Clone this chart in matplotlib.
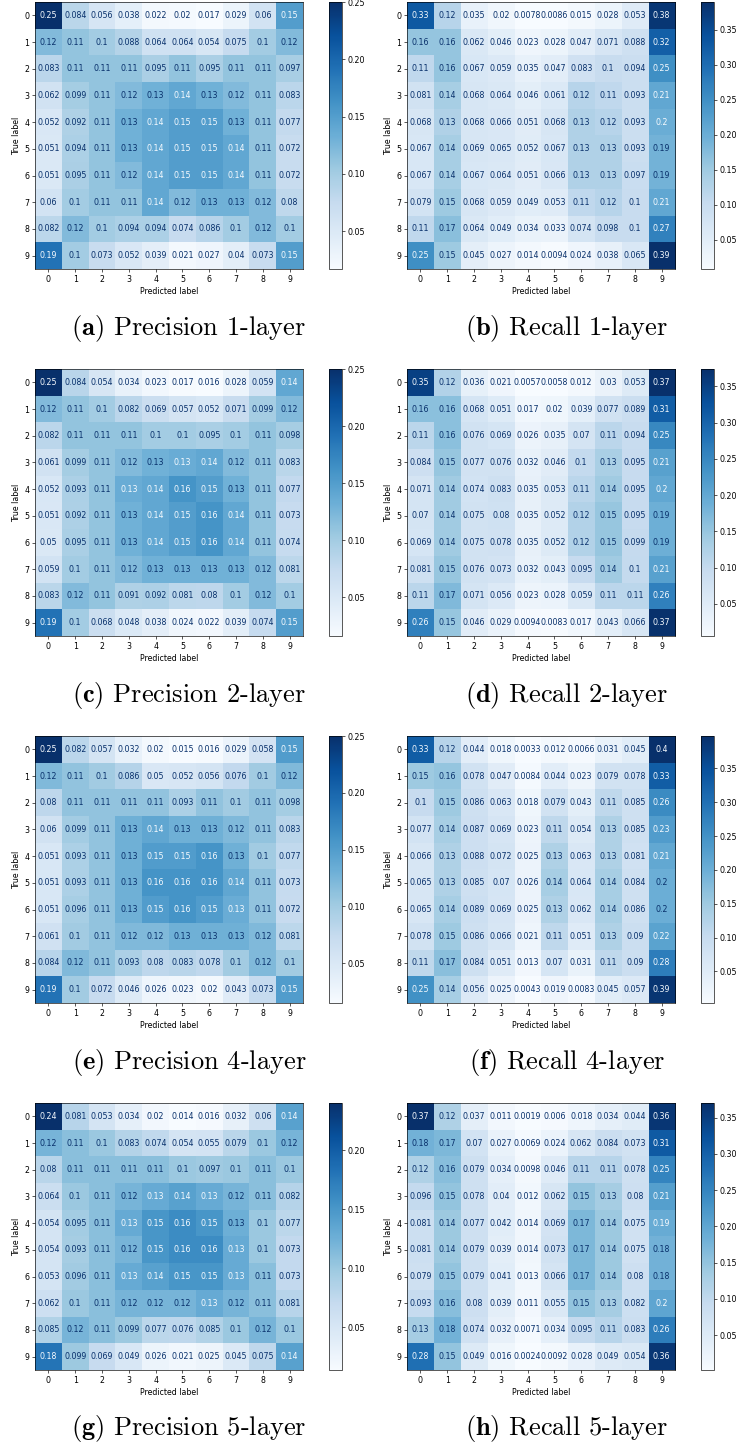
import numpy as np
import matplotlib.pyplot as plt

# etiquetas de las clases
clases = ['0', '1', '2', '3', '4', '5', '6', '7', '8', '9']

# matrices normalizadas
prec_1 = [
    [0.25, 0.084, 0.056, 0.038, 0.022, 0.02, 0.017, 0.029, 0.06, 0.15],
    [0.12, 0.11, 0.1, 0.088, 0.064, 0.064, 0.054, 0.075, 0.1, 0.12],
    [0.083, 0.11, 0.11, 0.11, 0.095, 0.11, 0.095, 0.11, 0.11, 0.097],
    [0.062, 0.099, 0.11, 0.12, 0.13, 0.14, 0.13, 0.12, 0.11, 0.083],
    [0.052, 0.092, 0.11, 0.13, 0.14, 0.15, 0.15, 0.13, 0.11, 0.077],
    [0.051, 0.094, 0.11, 0.13, 0.14, 0.15, 0.15, 0.14, 0.11, 0.072],
    [0.051, 0.095, 0.11, 0.12, 0.14, 0.15, 0.15, 0.14, 0.11, 0.072],
    [0.06, 0.1, 0.11, 0.11, 0.14, 0.12, 0.13, 0.13, 0.12, 0.08],
    [0.082, 0.12, 0.1, 0.094, 0.094, 0.074, 0.086, 0.1, 0.12, 0.1],
    [0.19, 0.1, 0.073, 0.052, 0.039, 0.021, 0.027, 0.04, 0.073, 0.15],
]

rec_1 = [
    [0.33, 0.12, 0.035, 0.02, 0.0078, 0.0086, 0.015, 0.028, 0.053, 0.38],
    [0.16, 0.16, 0.062, 0.046, 0.023, 0.028, 0.047, 0.071, 0.088, 0.32],
    [0.11, 0.16, 0.067, 0.059, 0.035, 0.047, 0.083, 0.1, 0.094, 0.25],
    [0.081, 0.14, 0.068, 0.064, 0.046, 0.061, 0.12, 0.11, 0.093, 0.21],
    [0.068, 0.13, 0.068, 0.066, 0.051, 0.068, 0.13, 0.12, 0.093, 0.2],
    [0.067, 0.14, 0.069, 0.065, 0.052, 0.067, 0.13, 0.13, 0.093, 0.19],
    [0.067, 0.14, 0.067, 0.064, 0.051, 0.066, 0.13, 0.13, 0.097, 0.19],
    [0.079, 0.15, 0.068, 0.059, 0.049, 0.053, 0.11, 0.12, 0.1, 0.21],
    [0.11, 0.17, 0.064, 0.049, 0.034, 0.033, 0.074, 0.098, 0.1, 0.27],
    [0.25, 0.15, 0.045, 0.027, 0.014, 0.0094, 0.024, 0.038, 0.065, 0.39],
]

prec_2 = [
    [0.25, 0.084, 0.054, 0.034, 0.023, 0.017, 0.016, 0.028, 0.059, 0.14],
    [0.12, 0.11, 0.1, 0.082, 0.069, 0.057, 0.052, 0.071, 0.099, 0.12],
    [0.082, 0.11, 0.11, 0.11, 0.1, 0.1, 0.095, 0.1, 0.11, 0.098],
    [0.061, 0.099, 0.11, 0.12, 0.13, 0.134, 0.14, 0.12, 0.11, 0.083],
    [0.052, 0.093, 0.11, 0.134, 0.14, 0.16, 0.15, 0.13, 0.11, 0.077],
    [0.051, 0.092, 0.11, 0.13, 0.14, 0.15, 0.16, 0.14, 0.11, 0.073],
    [0.05, 0.095, 0.11, 0.13, 0.14, 0.15, 0.16, 0.14, 0.11, 0.074],
    [0.059, 0.1, 0.11, 0.12, 0.13, 0.13, 0.13, 0.13, 0.12, 0.081],
    [0.083, 0.12, 0.11, 0.091, 0.092, 0.081, 0.08, 0.1, 0.12, 0.1],
    [0.19, 0.1, 0.068, 0.048, 0.038, 0.024, 0.022, 0.039, 0.074, 0.15],
]

rec_2 = [
    [0.35, 0.12, 0.036, 0.021, 0.0057, 0.0058, 0.012, 0.03, 0.053, 0.374],
    [0.16, 0.16, 0.068, 0.051, 0.017, 0.02, 0.039, 0.077, 0.089, 0.31],
    [0.11, 0.16, 0.076, 0.069, 0.026, 0.035, 0.07, 0.11, 0.094, 0.25],
    [0.084, 0.15, 0.077, 0.076, 0.032, 0.046, 0.1, 0.13, 0.095, 0.21],
    [0.071, 0.14, 0.074, 0.083, 0.035, 0.053, 0.11, 0.14, 0.095, 0.2],
    [0.07, 0.14, 0.075, 0.08, 0.035, 0.052, 0.12, 0.15, 0.095, 0.187],
    [0.069, 0.14, 0.075, 0.078, 0.035, 0.052, 0.12, 0.15, 0.099, 0.187],
    [0.081, 0.15, 0.076, 0.073, 0.032, 0.043, 0.095, 0.14, 0.1, 0.21],
    [0.11, 0.17, 0.071, 0.056, 0.023, 0.028, 0.059, 0.11, 0.11, 0.26],
    [0.26, 0.15, 0.046, 0.029, 0.0094, 0.0083, 0.017, 0.043, 0.066, 0.372],
]

prec_4 = [
    [0.25, 0.082, 0.057, 0.032, 0.02, 0.015, 0.016, 0.029, 0.058, 0.15],
    [0.12, 0.11, 0.1, 0.086, 0.05, 0.052, 0.056, 0.076, 0.1, 0.12],
    [0.08, 0.11, 0.11, 0.11, 0.11, 0.093, 0.11, 0.1, 0.11, 0.098],
    [0.06, 0.099, 0.11, 0.13, 0.14, 0.13, 0.13, 0.12, 0.11, 0.083],
    [0.051, 0.093, 0.11, 0.13, 0.15, 0.15, 0.16, 0.13, 0.1, 0.077],
    [0.051, 0.093, 0.11, 0.13, 0.16, 0.16, 0.16, 0.14, 0.11, 0.073],
    [0.051, 0.096, 0.11, 0.13, 0.15, 0.16, 0.15, 0.134, 0.11, 0.072],
    [0.061, 0.1, 0.11, 0.12, 0.12, 0.13, 0.13, 0.13, 0.12, 0.081],
    [0.084, 0.12, 0.11, 0.093, 0.08, 0.083, 0.078, 0.1, 0.12, 0.1],
    [0.19, 0.1, 0.072, 0.046, 0.026, 0.023, 0.02, 0.043, 0.073, 0.15],
]

rec_4 = [
    [0.33, 0.12, 0.044, 0.018, 0.0033, 0.012, 0.0066, 0.031, 0.045, 0.398],
    [0.15, 0.16, 0.078, 0.047, 0.0084, 0.044, 0.023, 0.079, 0.078, 0.33],
    [0.1, 0.15, 0.086, 0.063, 0.018, 0.079, 0.043, 0.11, 0.085, 0.26],
    [0.077, 0.14, 0.087, 0.069, 0.023, 0.11, 0.054, 0.13, 0.085, 0.23],
    [0.066, 0.13, 0.088, 0.072, 0.025, 0.13, 0.063, 0.13, 0.081, 0.21],
    [0.065, 0.13, 0.085, 0.07, 0.026, 0.14, 0.064, 0.14, 0.084, 0.2],
    [0.065, 0.14, 0.089, 0.069, 0.025, 0.13, 0.062, 0.14, 0.086, 0.2],
    [0.078, 0.15, 0.086, 0.066, 0.021, 0.11, 0.051, 0.13, 0.09, 0.22],
    [0.11, 0.17, 0.084, 0.051, 0.013, 0.07, 0.031, 0.11, 0.09, 0.28],
    [0.25, 0.14, 0.056, 0.025, 0.0043, 0.019, 0.0083, 0.045, 0.057, 0.39],
]

prec_5 = [
    [0.24, 0.081, 0.053, 0.034, 0.02, 0.014, 0.016, 0.032, 0.06, 0.14],
    [0.12, 0.11, 0.1, 0.083, 0.074, 0.054, 0.055, 0.079, 0.1, 0.12],
    [0.08, 0.11, 0.11, 0.11, 0.11, 0.1, 0.097, 0.1, 0.11, 0.1],
    [0.064, 0.1, 0.11, 0.12, 0.13, 0.14, 0.13, 0.12, 0.11, 0.082],
    [0.054, 0.095, 0.11, 0.13, 0.15, 0.16, 0.15, 0.126, 0.1, 0.077],
    [0.054, 0.093, 0.11, 0.12, 0.15, 0.16, 0.16, 0.13, 0.1, 0.073],
    [0.053, 0.096, 0.11, 0.13, 0.14, 0.15, 0.15, 0.13, 0.11, 0.073],
    [0.062, 0.1, 0.11, 0.12, 0.12, 0.12, 0.13, 0.12, 0.11, 0.081],
    [0.085, 0.12, 0.11, 0.099, 0.077, 0.076, 0.085, 0.1, 0.12, 0.1],
    [0.18, 0.099, 0.069, 0.049, 0.026, 0.021, 0.025, 0.045, 0.075, 0.14],
]

rec_5 = [
    [0.37, 0.12, 0.037, 0.011, 0.0019, 0.006, 0.018, 0.034, 0.044, 0.36],
    [0.18, 0.17, 0.07, 0.027, 0.0069, 0.024, 0.062, 0.084, 0.073, 0.31],
    [0.12, 0.16, 0.079, 0.034, 0.0098, 0.046, 0.11, 0.11, 0.078, 0.25],
    [0.096, 0.15, 0.078, 0.04, 0.012, 0.062, 0.15, 0.13, 0.08, 0.21],
    [0.081, 0.14, 0.077, 0.042, 0.014, 0.069, 0.17, 0.14, 0.075, 0.19],
    [0.081, 0.14, 0.079, 0.039, 0.014, 0.073, 0.17, 0.14, 0.075, 0.18],
    [0.079, 0.15, 0.079, 0.041, 0.013, 0.066, 0.17, 0.14, 0.08, 0.18],
    [0.093, 0.16, 0.08, 0.039, 0.011, 0.055, 0.15, 0.13, 0.082, 0.2],
    [0.13, 0.18, 0.074, 0.032, 0.0071, 0.034, 0.095, 0.11, 0.083, 0.26],
    [0.28, 0.15, 0.049, 0.016, 0.0024, 0.0092, 0.028, 0.049, 0.054, 0.36],
]

letras = ['a', 'b', 'c', 'd', 'e', 'f', 'g', 'h']
titulos = ['Precision 1-layer', 'Recall 1-layer', 'Precision 2-layer', 'Recall 2-layer',
           'Precision 4-layer', 'Recall 4-layer', 'Precision 5-layer', 'Recall 5-layer']

W, H = 739, 1445
FS = 5.7

plt.rcParams['font.size'] = FS
plt.rcParams['axes.linewidth'] = 0.46
plt.rcParams['xtick.major.size'] = 2.0
plt.rcParams['ytick.major.size'] = 2.0
plt.rcParams['xtick.major.width'] = 0.46
plt.rcParams['ytick.major.width'] = 0.46
plt.rcParams['xtick.major.pad'] = 2.0
plt.rcParams['ytick.major.pad'] = 2.0
plt.rcParams['axes.labelpad'] = 2.3
plt.rcParams['mathtext.fontset'] = 'cm'


def rect(x, y, w, h):
    """Convierte pixeles (desde arriba a la izquierda) a fracciones de figura."""
    return [x / W, 1 - (y + h) / H, w / W, h / H]


def dibujar_matriz(fig, datos, x0, y0):
    cm = np.array(datos)
    cmap = plt.cm.Blues
    ax = fig.add_axes(rect(x0, y0, 268, 267))
    cax = fig.add_axes(rect(x0 + 294, y0, 13, 267))

    im = ax.imshow(cm, cmap=cmap, interpolation='nearest', aspect='auto')
    cb = fig.colorbar(im, cax=cax)
    cb.outline.set_linewidth(0.46)

    # texto de cada celda, como en ConfusionMatrixDisplay
    umbral = (cm.max() + cm.min()) / 2.0
    c_min, c_max = cmap(0), cmap(1.0)
    for i in range(cm.shape[0]):
        for j in range(cm.shape[1]):
            color = c_max if cm[i, j] < umbral else c_min
            ax.text(j, i, format(cm[i, j], '.2g'), ha='center', va='center',
                    color=color, fontsize=FS)

    ax.set_xticks(np.arange(len(clases)))
    ax.set_yticks(np.arange(len(clases)))
    ax.set_xticklabels(clases)
    ax.set_yticklabels(clases)
    ax.set_xlabel('Predicted label')
    ax.set_ylabel('True label')


def main():
    fig = plt.figure(figsize=(W / 100, H / 100), dpi=100)
    matrices = [prec_1, rec_1, prec_2, rec_2, prec_4, rec_4, prec_5, rec_5]

    for k, datos in enumerate(matrices):
        fila, col = k // 2, k % 2
        x0 = 35 if col == 0 else 407
        y0 = 2 + fila * 367
        dibujar_matriz(fig, datos, x0, y0)

        cx = 189 if col == 0 else 567
        cy = y0 + 326
        fig.text(cx / W, 1 - cy / H, r'$\mathbf{(' + letras[k] + r')}$ ' + titulos[k],
                 ha='center', va='center', fontsize=19, family='cmr10')

    fig.savefig('out.png', dpi=100)
    plt.close(fig)


if __name__ == "__main__":
    main()
